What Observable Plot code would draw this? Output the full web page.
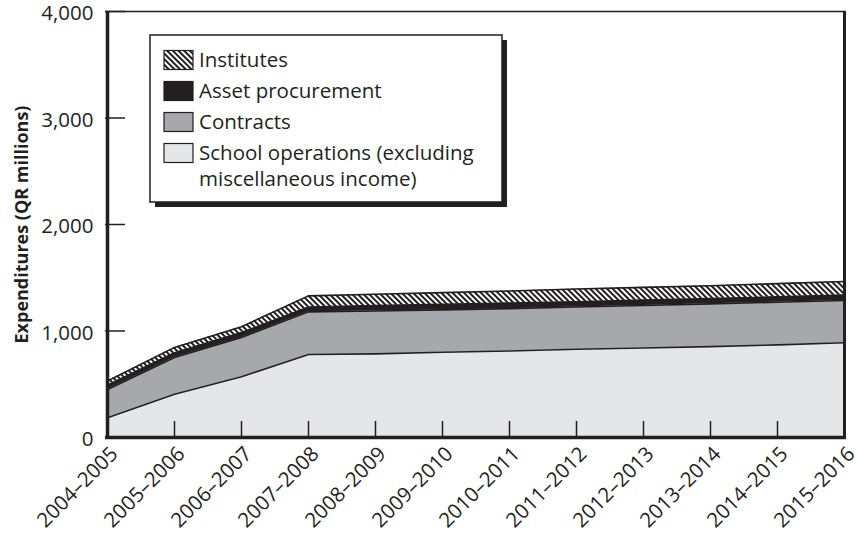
<!DOCTYPE html>
<html><head><meta charset="utf-8">
<script src="https://cdn.jsdelivr.net/npm/d3@7"></script>
<script src="https://cdn.jsdelivr.net/npm/@observablehq/plot@0.6"></script>
<style>body{margin:0;background:#fff;}</style>
</head><body><div id="chart"></div>
<script>
const periods = ["2004–2005","2005–2006","2006–2007","2007–2008","2008–2009","2009–2010","2010–2011","2011–2012","2012–2013","2013–2014","2014–2015","2015–2016"];
const schoolOperations = [186, 406, 570, 780, 785, 800, 812, 828, 840, 853, 870, 890];
const contracts        = [264, 346, 370, 400, 403, 398, 398, 397, 400, 402, 400, 396];
const assetProcurement = [ 40,  44,  45,  45,  50,  52,  52,  50,  50,  50,  50,  51];
const institutes       = [ 41,  50,  55, 105, 107, 110, 113, 120, 120, 120, 125, 128];
const seriesNames = ["School operations (excluding miscellaneous income)", "Contracts", "Asset procurement", "Institutes"];
const seriesValues = [schoolOperations, contracts, assetProcurement, institutes];
const legendLines = [["Institutes"], ["Asset procurement"], ["Contracts"], ["School operations (excluding", "miscellaneous income)"]];
const legendSeries = ["Institutes", "Asset procurement", "Contracts", "School operations (excluding miscellaneous income)"];
const yTicks = [0, 1000, 2000, 3000, 4000];
const yTitle = "Expenditures (QR millions)";

const ink = "#231f20";
const font = "'Open Sans', sans-serif";
const fs = 20.5;
const fills = ["#e5e6e8", "#a7a8ab", ink, "url(#hatch)"];
const rows = [];
seriesNames.forEach((s, i) => periods.forEach((p, j) => rows.push({period: p, series: s, value: seriesValues[i][j]})));

const chart = Plot.plot({
  width: 860, height: 537,
  marginLeft: 105, marginRight: 14, marginTop: 11, marginBottom: 100,
  style: {fontFamily: font, fontSize: fs + "px", color: ink, background: "#fff", overflow: "visible"},
  x: {type: "point", domain: periods, padding: 0, label: null},
  y: {domain: [0, 4000], label: null},
  color: {domain: seriesNames, range: fills},
  marks: [
    Plot.areaY(rows, {x: "period", y: "value", z: "series", fill: "series"}),
    Plot.lineY(rows, Plot.stackY2({x: "period", y: "value", z: "series", stroke: ink, strokeWidth: 1.6})),
    Plot.axisY({ticks: yTicks, tickSize: -20, fill: "none", stroke: ink, strokeWidth: 1.5, label: null}),
    Plot.axisY({ticks: yTicks, tickSize: 0, tickPadding: 12, dy: 2, tickFormat: d3.format(","), fontSize: fs, fill: ink, label: null}),
    Plot.axisX({tickSize: -16, fill: "none", stroke: ink, strokeWidth: 1.5, label: null}),
    Plot.axisX({tickSize: 0, tickPadding: 7, tickRotate: -45, fontSize: fs, dx: 7, dy: 6, fill: ink, label: null}),
    Plot.ruleY([4000], {stroke: ink, strokeWidth: 1.5}),
    Plot.ruleX([periods[periods.length - 1]], {stroke: ink, strokeWidth: 3}),
    Plot.ruleX([periods[0]], {stroke: ink, strokeWidth: 3.5}),
    Plot.ruleY([0], {stroke: ink, strokeWidth: 3.5}),
    Plot.text([yTitle], {frameAnchor: "left", rotate: -90, dx: -83, textAnchor: "middle", fontWeight: "bold", fontSize: 18, fill: ink})
  ]
});

const svg = d3.select(chart);
const defs = svg.insert("defs", ":first-child");
const pat = defs.append("pattern").attr("id", "hatch").attr("patternUnits", "userSpaceOnUse")
  .attr("width", 4).attr("height", 10).attr("patternTransform", "rotate(-45)");
pat.append("rect").attr("width", 4).attr("height", 10).attr("fill", "#fff");
pat.append("rect").attr("width", 2).attr("height", 10).attr("fill", ink);

const lg = svg.append("g").attr("transform", "translate(150,35)");
lg.append("rect").attr("x", 5).attr("y", 5).attr("width", 352).attr("height", 167).attr("fill", ink);
lg.append("rect").attr("width", 352).attr("height", 167).attr("fill", "#fff").attr("stroke", ink).attr("stroke-width", 1.5);
legendSeries.forEach((s, i) => {
  const cy = 25 + i * 31;
  lg.append("rect").attr("x", 14).attr("y", cy - 9.5).attr("width", 29).attr("height", 19)
    .attr("fill", fills[seriesNames.indexOf(s)]).attr("stroke", ink).attr("stroke-width", 1.2);
  legendLines[i].forEach((t, k) => {
    lg.append("text").attr("x", 49).attr("y", cy + k * 26).attr("dy", "0.35em")
      .attr("text-anchor", "start").attr("font-family", font).attr("font-size", fs).attr("fill", ink).text(t);
  });
});

document.getElementById("chart").appendChild(chart);
</script>
</body></html>
